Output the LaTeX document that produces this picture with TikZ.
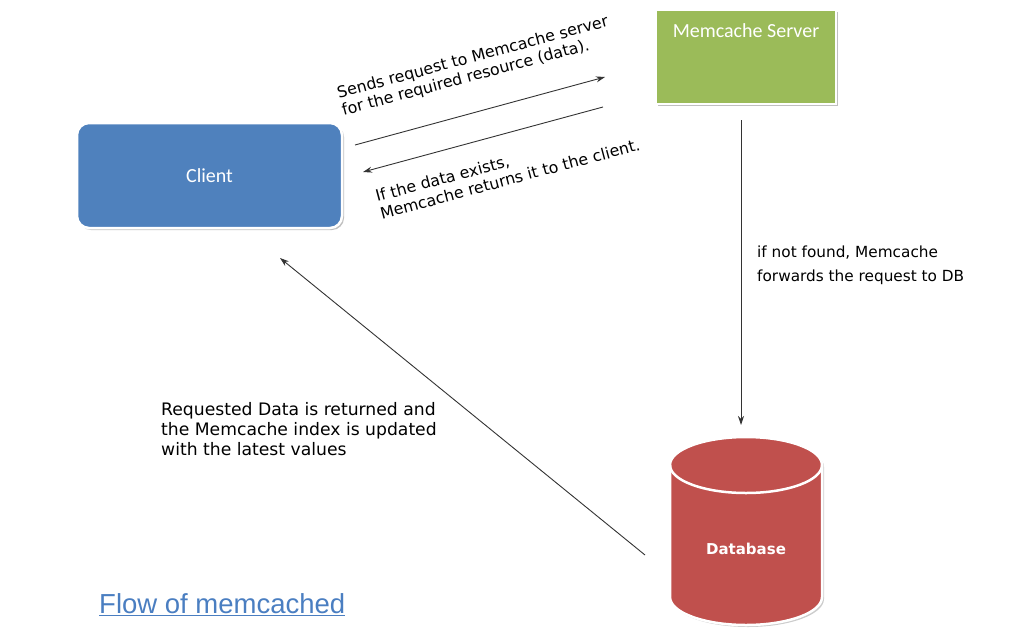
\documentclass[tikz,border=0pt]{standalone}
\usepackage{fontspec}
\setmainfont{DejaVu Sans}
\newfontfamily\boxfont{Carlito}
\newfontfamily\titlefont{Liberation Sans}
\usetikzlibrary{arrows.meta,shadows}
\definecolor{clientblue}{RGB}{79,129,189}
\definecolor{servergreen}{RGB}{155,187,89}
\definecolor{dbred}{RGB}{192,80,77}
\definecolor{titleblue}{RGB}{74,126,193}
\tikzset{
  box/.style={draw=white, line width=2.5pt,
    drop shadow={shadow xshift=2pt, shadow yshift=-2pt, fill=black, opacity=0.25}},
  flow/.style={-{Stealth[length=9pt,width=6pt]}, line width=0.9pt, black!80},
  note/.style={align=left, inner sep=0pt},
}
\begin{document}
\begin{tikzpicture}[x=1pt,y=-1pt]
    \useasboundingbox (0,0) rectangle (1024,642);

    % Client
    \node[box, fill=clientblue, rounded corners=12pt, minimum width=265pt, minimum height=105pt,
      text=white, font=\boxfont\fontsize{20}{24}\selectfont] (client) at (209.5,175.5) {Client};

    % Memcache Server
    \node[box, fill=servergreen, minimum width=180pt, minimum height=94pt,
      label={[anchor=north, yshift=-15pt, inner sep=0pt, text=white,
        font=\boxfont\fontsize{20}{24}\selectfont]north:Memcache Server}] (server) at (746,57) {};

    % Database
    \fill[black, opacity=0.2] (672,467) -- (672,599) arc (180:360:76pt and 28pt)
      -- (824,467) arc (0:180:76pt and 28pt) -- cycle;
    \filldraw[fill=dbred, draw=white, line width=2.5pt] (670,465) -- (670,597) arc (180:360:76pt and 28pt)
      -- (822,465) arc (0:180:76pt and 28pt) -- cycle;
    \draw[white, line width=2.5pt] (670,465) arc (180:360:76pt and 28pt);
    \node[text=white, font=\bfseries\fontsize{15}{18}\selectfont] (db) at (746,549) {Database};

    % connector ends
    \coordinate (reqA) at (355,145);
    \coordinate (reqB) at (605,77);
    \coordinate (retA) at (603,107);
    \coordinate (retB) at (363,172);
    \coordinate (fwdA) at (741,120);
    \coordinate (fwdB) at (741,425);
    \coordinate (updA) at (645,555);
    \coordinate (updB) at (280,258);

    \draw[flow] (reqA) -- (reqB);
    \draw[flow] (retA) -- (retB);
    \draw[flow] (fwdA) -- (fwdB);
    \draw[flow] (updA) -- (updB);

    % labels
    \node[note, rotate=15, anchor=west, font=\fontsize{15.8}{18}\selectfont] (reqlbl) at (340,103)
      {Sends request to Memcache server\\for the required resource (data).};
    \node[note, rotate=15, anchor=west, font=\fontsize{15.8}{18}\selectfont] (retlbl) at (378,205)
      {If the data exists,\\Memcache returns it to the client.};
    \node[note, anchor=north west, font=\fontsize{15.3}{24}\selectfont] (fwdlbl) at (757,246)
      {if not found, Memcache\\forwards the request to DB};
    \node[note, anchor=north west, font=\fontsize{17.2}{20}\selectfont] (updlbl) at (161,402)
      {Requested Data is returned and\\the Memcache index is updated\\with the latest values};
    \node[anchor=west, inner sep=0pt, text=titleblue,
      font=\titlefont\fontsize{27.5}{30}\selectfont] (title) at (99,605) {\underline{Flow of memcached}};
\end{tikzpicture}
\end{document}
